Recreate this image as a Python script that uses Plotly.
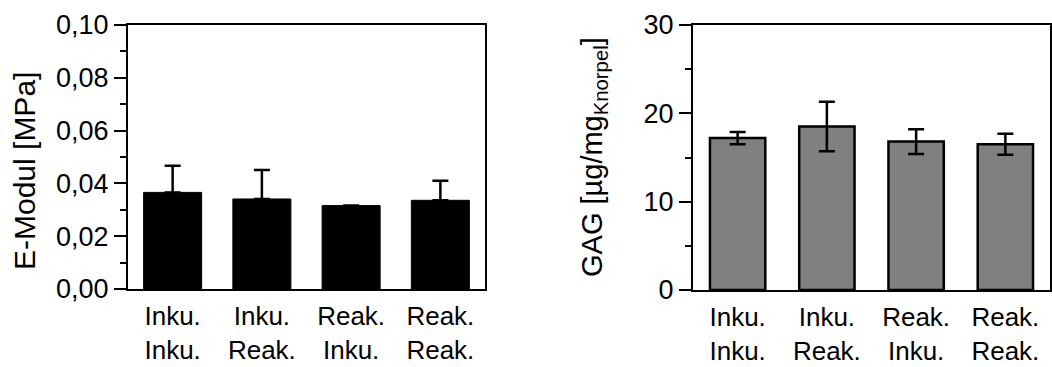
import plotly.graph_objects as go

# Gruppen (Kultur / Messung)
categories = ["Inku.<br>Inku.", "Inku.<br>Reak.", "Reak.<br>Inku.", "Reak.<br>Reak."]

# E-Modul [MPa], Mittelwert und Standardabweichung (nur nach oben)
emod_mean = [0.0366, 0.0341, 0.0316, 0.0336]
emod_sd = [0.0101, 0.0110, None, 0.0074]

# GAG-Gehalt [µg/mg Knorpel], Mittelwert ± Standardabweichung
gag_mean = [17.2, 18.5, 16.8, 16.5]
gag_sd = [0.7, 2.8, 1.4, 1.2]

FONT = "Liberation Sans, Arial, sans-serif"
W, H = 1052, 367

fig = go.Figure()

fig.add_trace(go.Bar(
    x=categories, y=emod_mean, width=0.65,
    marker=dict(color="black", line=dict(color="black", width=1)),
    error_y=dict(type="data", symmetric=False, array=emod_sd,
                 arrayminus=[0] * len(emod_sd),
                 color="black", thickness=2.5, width=8),
    xaxis="x", yaxis="y", showlegend=False,
))

fig.add_trace(go.Bar(
    x=categories, y=gag_mean, width=0.62,
    marker=dict(color="#808080", line=dict(color="black", width=2.5)),
    error_y=dict(type="data", array=gag_sd,
                 color="black", thickness=2.5, width=8),
    xaxis="x2", yaxis="y2", showlegend=False,
))

xcommon = dict(
    type="category", range=[-0.5, 3.5], showline=True, linecolor="black",
    linewidth=2, mirror=True, ticks="", showgrid=False, zeroline=False,
    automargin=False, ticklabelstandoff=3,
    tickfont=dict(family=FONT, size=26, color="black"),
)
ycommon = dict(
    showline=True, linecolor="black", linewidth=2, mirror=True,
    ticks="outside", ticklen=12, tickwidth=2, tickcolor="black",
    showgrid=False, zeroline=False, automargin=False,
    tickfont=dict(family=FONT, size=27, color="black"),
)

fig.update_layout(
    width=W, height=H,
    margin=dict(l=0, r=0, t=0, b=0, autoexpand=False),
    paper_bgcolor="white", plot_bgcolor="white",
    separators=",.",
    xaxis=dict(domain=[128 / W, 485 / W], anchor="y", **xcommon),
    yaxis=dict(domain=[(H - 289) / H, (H - 25) / H], anchor="x",
               range=[0, 0.10], dtick=0.02, tickformat=".2f",
               minor=dict(dtick=0.01, ticks="outside", ticklen=6,
                          tickwidth=2, tickcolor="black"),
               **ycommon),
    xaxis2=dict(domain=[693 / W, 1050 / W], anchor="y2", **xcommon),
    yaxis2=dict(domain=[(H - 290) / H, (H - 25) / H], anchor="x2",
                range=[0, 30], dtick=10, tickformat="d",
                minor=dict(dtick=5, ticks="outside", ticklen=6,
                           tickwidth=2, tickcolor="black"),
                **ycommon),
    annotations=[
        dict(text="E-Modul [MPa]", textangle=-90, xref="paper", yref="paper",
             x=24 / W, y=(H - 171) / H, xanchor="center", yanchor="middle",
             showarrow=False, font=dict(family=FONT, size=30, color="black")),
        dict(text="GAG [µg/mg<sub>Knorpel</sub>]", textangle=-90,
             xref="paper", yref="paper",
             x=594 / W, y=(H - 157) / H, xanchor="center", yanchor="middle",
             showarrow=False, font=dict(family=FONT, size=29, color="black")),
    ],
)

fig.write_html("out.html")
